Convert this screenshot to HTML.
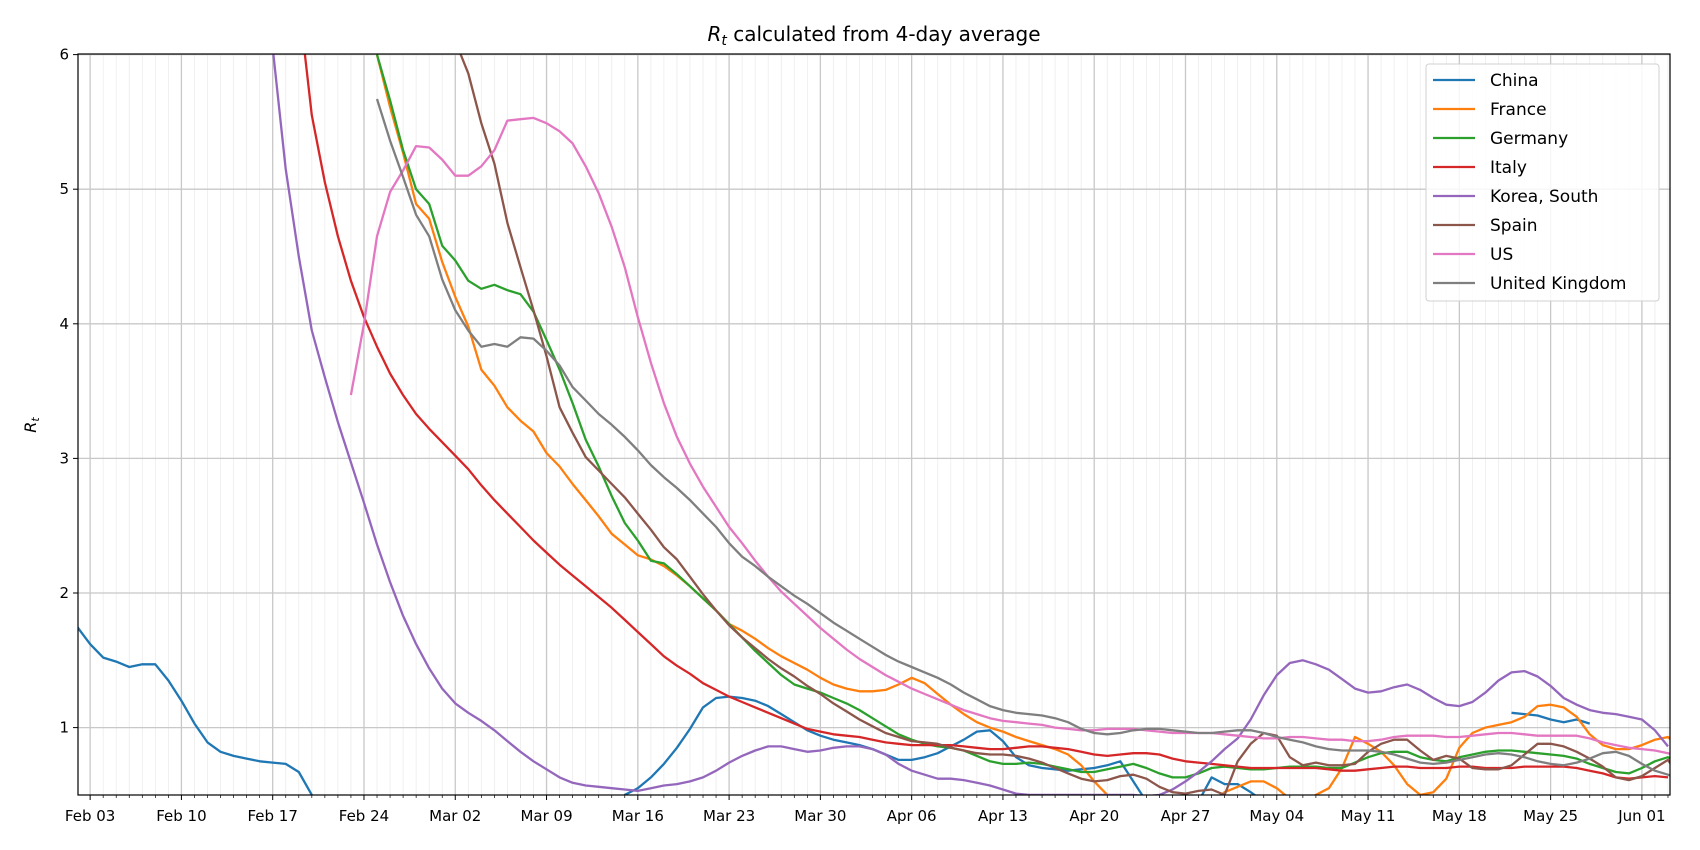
<!DOCTYPE html>
<html><head><meta charset="utf-8"><style>
body{margin:0;background:#fff}
svg{display:block;font-family:"DejaVu Sans","Liberation Sans",sans-serif}
</style></head><body>
<svg id="chart" width="1700" height="850" viewBox="0 0 1700 850">
<defs><clipPath id="clip"><rect x="78" y="54" width="1592" height="741"/></clipPath></defs>
<g id="grid"></g>
<g id="series" clip-path="url(#clip)"></g>
<g id="axes"></g>
<text x="874" y="41" text-anchor="middle" font-size="20"><tspan font-style="italic">R</tspan><tspan font-style="italic" font-size="14" dy="4">t</tspan><tspan dy="-4"> calculated from 4-day average</tspan></text>
<text transform="translate(36,425) rotate(-90)" text-anchor="middle" font-size="16"><tspan font-style="italic">R</tspan><tspan font-style="italic" font-size="11" dy="3">t</tspan></text>
<g id="legend"></g>
</svg>
<script>
const names = ["China","France","Germany","Italy","Korea, South","Spain","US","United Kingdom"];
const colors = ["#1f77b4","#ff7f0e","#2ca02c","#d62728","#9467bd","#8c564b","#e377c2","#7f7f7f"];
const tickLabels = ["Feb 03","Feb 10","Feb 17","Feb 24","Mar 02","Mar 09","Mar 16","Mar 23","Mar 30","Apr 06","Apr 13","Apr 20","Apr 27","May 04","May 11","May 18","May 25","Jun 01"];
const yTicks = [1,2,3,4,5,6];
const starts = [0,23,23,17,14,29,21,23];
const china = [1.75,1.62,1.52,1.49,1.45,1.47,1.47,1.35,1.2,1.03,0.89,0.82,0.79,0.77,0.75,0.74,0.73,0.67,0.5,0.4,0.4,0.4,0.4,0.4,0.4,0.4,0.4,0.4,0.4,0.4,0.4,0.4,0.4,0.4,0.4,0.4,0.4,0.4,0.4,0.4,0.4,0.4,0.5,0.55,0.63,0.73,0.85,0.99,1.15,1.22,1.23,1.22,1.2,1.16,1.1,1.04,0.98,0.94,0.91,0.89,0.87,0.84,0.8,0.76,0.76,0.78,0.81,0.86,0.91,0.97,0.98,0.9,0.78,0.72,0.7,0.69,0.68,0.69,0.7,0.72,0.75,0.6,0.45,0.45,0.45,0.45,0.45,0.63,0.58,0.58,0.52,0.45,null,null,null,null,null,null,null,null,null,null,null,null,null,null,null,null,null,null,1.11,1.1,1.09,1.06,1.04,1.06,1.03];
const france = [6.0,5.61,5.27,4.89,4.78,4.46,4.2,3.98,3.66,3.54,3.38,3.28,3.2,3.04,2.94,2.81,2.69,2.57,2.44,2.36,2.28,2.25,2.2,2.13,2.05,1.96,1.87,1.77,1.72,1.66,1.59,1.53,1.48,1.43,1.37,1.32,1.29,1.27,1.27,1.28,1.32,1.37,1.33,1.25,1.17,1.1,1.04,1.0,0.97,0.93,0.9,0.87,0.84,0.8,0.72,0.6,0.5,0.45,0.45,0.45,0.45,0.45,0.45,0.45,0.45,0.52,0.56,0.6,0.6,0.55,0.47,0.45,0.5,0.55,0.7,0.93,0.88,0.82,0.72,0.58,0.5,0.52,0.62,0.85,0.96,1.0,1.02,1.04,1.08,1.16,1.17,1.15,1.08,0.95,0.87,0.84,0.84,0.87,0.91,0.93,0.84];
const germany = [6.0,5.66,5.29,5.0,4.89,4.58,4.47,4.32,4.26,4.29,4.25,4.22,4.09,3.88,3.66,3.41,3.14,2.94,2.72,2.52,2.39,2.24,2.22,2.14,2.05,1.96,1.87,1.77,1.67,1.57,1.48,1.39,1.32,1.29,1.26,1.22,1.18,1.13,1.07,1.01,0.95,0.91,0.88,0.86,0.85,0.83,0.79,0.75,0.73,0.73,0.74,0.73,0.71,0.69,0.67,0.67,0.69,0.71,0.73,0.7,0.66,0.63,0.63,0.66,0.7,0.71,0.7,0.69,0.69,0.7,0.71,0.71,0.71,0.7,0.7,0.74,0.78,0.81,0.82,0.82,0.78,0.76,0.75,0.78,0.8,0.82,0.83,0.83,0.82,0.81,0.8,0.79,0.77,0.73,0.7,0.67,0.66,0.7,0.75,0.78,0.72];
const italy = [6.4,5.55,5.05,4.65,4.32,4.05,3.83,3.63,3.47,3.33,3.22,3.12,3.02,2.92,2.8,2.69,2.59,2.49,2.39,2.3,2.21,2.13,2.05,1.97,1.89,1.8,1.71,1.62,1.53,1.46,1.4,1.33,1.28,1.23,1.19,1.15,1.11,1.07,1.03,0.99,0.97,0.95,0.94,0.93,0.91,0.89,0.88,0.87,0.87,0.87,0.87,0.86,0.85,0.84,0.84,0.85,0.86,0.86,0.85,0.84,0.82,0.8,0.79,0.8,0.81,0.81,0.8,0.77,0.75,0.74,0.73,0.72,0.71,0.7,0.7,0.7,0.7,0.7,0.7,0.69,0.68,0.68,0.69,0.7,0.71,0.71,0.7,0.7,0.7,0.71,0.71,0.7,0.7,0.7,0.71,0.71,0.71,0.71,0.7,0.68,0.66,0.63,0.62,0.63,0.64,0.63];
const korea = [7.0,6.05,5.15,4.5,3.95,3.6,3.27,2.97,2.67,2.36,2.08,1.83,1.62,1.44,1.29,1.18,1.11,1.05,0.98,0.9,0.82,0.75,0.69,0.63,0.59,0.57,0.56,0.55,0.54,0.53,0.55,0.57,0.58,0.6,0.63,0.68,0.74,0.79,0.83,0.86,0.86,0.84,0.82,0.83,0.85,0.86,0.86,0.84,0.8,0.73,0.68,0.65,0.62,0.62,0.61,0.59,0.57,0.54,0.51,0.5,0.5,0.5,0.5,0.5,0.5,0.5,0.5,0.5,0.49,0.5,0.54,0.6,0.67,0.75,0.84,0.92,1.06,1.24,1.39,1.48,1.5,1.47,1.43,1.36,1.29,1.26,1.27,1.3,1.32,1.28,1.22,1.17,1.16,1.19,1.26,1.35,1.41,1.42,1.38,1.31,1.22,1.17,1.13,1.11,1.1,1.08,1.06,0.98,0.86];
const spain = [6.1,5.86,5.49,5.19,4.75,4.42,4.1,3.76,3.38,3.19,3.01,2.91,2.81,2.71,2.59,2.47,2.34,2.25,2.12,1.99,1.87,1.76,1.67,1.59,1.51,1.44,1.38,1.31,1.25,1.18,1.12,1.06,1.01,0.96,0.93,0.9,0.89,0.88,0.85,0.83,0.81,0.8,0.8,0.79,0.77,0.74,0.7,0.66,0.62,0.6,0.61,0.64,0.65,0.62,0.56,0.52,0.51,0.53,0.54,0.5,0.75,0.88,0.96,0.94,0.78,0.72,0.74,0.72,0.72,0.73,0.82,0.88,0.91,0.91,0.83,0.76,0.79,0.77,0.7,0.69,0.69,0.72,0.8,0.88,0.88,0.86,0.82,0.77,0.71,0.63,0.61,0.64,0.7,0.76,0.62];
const us = [3.47,4.0,4.65,4.98,5.14,5.32,5.31,5.22,5.1,5.1,5.17,5.29,5.51,5.52,5.53,5.49,5.43,5.34,5.17,4.97,4.72,4.42,4.05,3.71,3.41,3.16,2.96,2.79,2.64,2.49,2.37,2.24,2.12,2.01,1.92,1.83,1.74,1.66,1.58,1.51,1.45,1.39,1.34,1.29,1.25,1.21,1.17,1.13,1.1,1.07,1.05,1.04,1.03,1.02,1.0,0.99,0.98,0.98,0.99,0.99,0.99,0.98,0.97,0.96,0.96,0.96,0.96,0.95,0.94,0.93,0.92,0.92,0.93,0.93,0.92,0.91,0.91,0.9,0.9,0.91,0.93,0.94,0.94,0.94,0.93,0.93,0.94,0.95,0.96,0.96,0.95,0.94,0.94,0.94,0.94,0.92,0.89,0.87,0.85,0.84,0.83,0.81,0.78];
const uk = [5.67,5.36,5.09,4.81,4.65,4.33,4.1,3.95,3.83,3.85,3.83,3.9,3.89,3.8,3.69,3.53,3.43,3.33,3.25,3.16,3.06,2.95,2.86,2.78,2.69,2.59,2.49,2.37,2.27,2.2,2.12,2.05,1.98,1.92,1.85,1.78,1.72,1.66,1.6,1.54,1.49,1.45,1.41,1.37,1.32,1.26,1.21,1.16,1.13,1.11,1.1,1.09,1.07,1.04,0.99,0.96,0.95,0.96,0.98,0.99,0.99,0.98,0.97,0.96,0.96,0.97,0.98,0.98,0.96,0.93,0.91,0.89,0.86,0.84,0.83,0.83,0.83,0.82,0.8,0.77,0.74,0.73,0.74,0.76,0.78,0.8,0.81,0.8,0.78,0.75,0.73,0.72,0.74,0.77,0.81,0.82,0.79,0.73,0.68,0.65,0.61];
const seriesValues = [china,france,germany,italy,korea,spain,us,uk];

const NS="http://www.w3.org/2000/svg";
const L=78,R=1670,T=54,B=795;
function xs(d){return 77.1+d*13.04;}
function ys(v){return 727.6-(v-1)*134.6;}
function mk(tag,attrs,parent){const e=document.createElementNS(NS,tag);for(const k in attrs)e.setAttribute(k,attrs[k]);parent.appendChild(e);return e;}
const grid=document.getElementById('grid'),axes=document.getElementById('axes'),ser=document.getElementById('series'),leg=document.getElementById('legend');
for(let d=0;d<=122;d++){
  const x=xs(d); if(x<L||x>R)continue;
  const major=(d-1)%7===0;
  const ln=mk('line',{x1:x,x2:x,y1:T,y2:B,stroke:major?'#c8c8c8':'#ececec','stroke-width':major?1.3:0.8},grid);
  
  
  const tk=mk('line',{x1:x,x2:x,y1:B,y2:B+(major?5:3),stroke:'#000','stroke-width':major?1:0.7},axes);
  
  
}
tickLabels.forEach((t,i)=>{
  const tx=mk('text',{x:xs(1+7*i),y:821,'text-anchor':'middle','font-size':15},axes);
  tx.textContent=t;
  
  
});
yTicks.forEach(v=>{
  const y=ys(v);
  const g=mk('line',{x1:L,x2:R,y1:y,y2:y,stroke:'#c8c8c8','stroke-width':1.3},grid);
  
  
  const tk=mk('line',{x1:L-5,x2:L,y1:y,y2:y,stroke:'#000','stroke-width':1},axes);
  
  
  const tx=mk('text',{x:L-9,y:y+5,'text-anchor':'end','font-size':15},axes);
  tx.textContent=v;
  
  
});
const frame=mk('rect',{x:L,y:T,width:R-L,height:B-T,fill:'none',stroke:'#000','stroke-width':1.2},axes);


seriesValues.forEach((vals,i)=>{
  let d='',pen=false;
  vals.forEach((v,j)=>{
    if(v===null){pen=false;return;}
    d+=(pen?'L':'M')+xs(starts[i]+j).toFixed(1)+' '+ys(v).toFixed(1)+' ';pen=true;
  });
  const p=mk('path',{d:d,fill:'none',stroke:colors[i],'stroke-width':2.3,'stroke-linejoin':'round'},ser);
  
  
});
const box=mk('rect',{x:1426,y:64,width:233,height:237,rx:3,fill:'#fff','fill-opacity':0.85,stroke:'#d0d0d0','stroke-width':1},leg);


names.forEach((n,i)=>{
  const y=80+i*29;
  const ln=mk('line',{x1:1433,x2:1475,y1:y,y2:y,stroke:colors[i],'stroke-width':2.3},leg);
  
  
  const tx=mk('text',{x:1490,y:y+6,'font-size':17},leg);
  tx.textContent=n;
  
  
});
</script>
</body></html>
